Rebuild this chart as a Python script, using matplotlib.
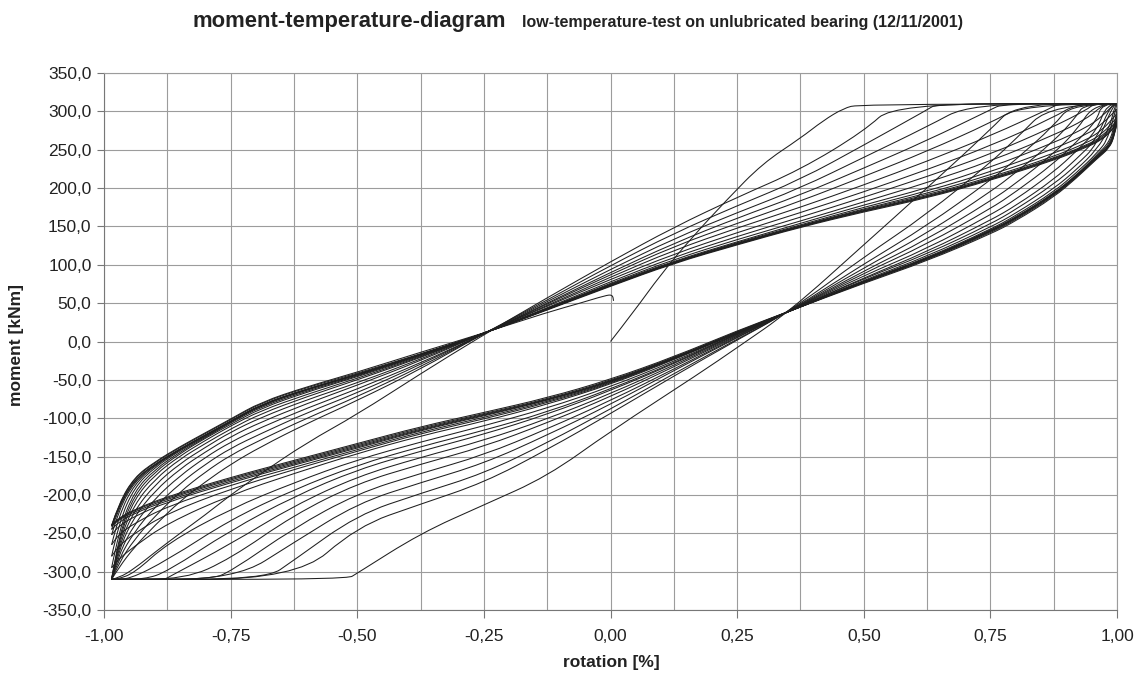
import matplotlib.pyplot as plt
from matplotlib.path import Path
from matplotlib.patches import PathPatch
from matplotlib.ticker import MultipleLocator, FuncFormatter

plt.rcParams['font.family'] = ['Liberation Sans', 'DejaVu Sans']

# first loading from zero up to the friction limit
virgin = [(0.0, 0), (0.045, 38), (0.1, 88), (0.16, 135), (0.23, 185), (0.3, 232),
          (0.375, 265), (0.42, 288), (0.46, 304), (0.49, 309), (1.0, 310)]

# descending branches (rotation 1 -> -1), one per cycle
desc = [
    [(1.0, 310), (0.8, 310), (0.75, 276), (0.625, 200), (0.5, 126), (0.355, 40), (0.25, -8), (0.177, -41),
     (0.0, -117), (-0.125, -176), (-0.25, -213), (-0.375, -250), (-0.5, -302), (-0.52, -310), (-0.985, -310)],
    [(1.0, 310), (0.87, 310), (0.8, 264), (0.75, 233), (0.625, 166), (0.5, 110), (0.355, 40), (0.25, 2),
     (0.125, -45), (0.0, -94), (-0.125, -141), (-0.25, -184), (-0.375, -212), (-0.5, -241), (-0.62, -310),
     (-0.985, -310)],
    [(1.0, 310), (0.91, 310), (0.875, 281), (0.8, 237), (0.75, 210), (0.625, 151), (0.5, 101), (0.355, 40),
     (0.25, 3), (0.125, -42), (0.0, -88), (-0.125, -132), (-0.25, -172), (-0.375, -198), (-0.5, -226),
     (-0.625, -285), (-0.68, -310), (-0.985, -310)],
    [(1.0, 310), (0.935, 310), (0.92, 293), (0.875, 261), (0.8, 220), (0.75, 195), (0.625, 141), (0.5, 96),
     (0.355, 40), (0.25, 5), (0.125, -38), (0.0, -82), (-0.125, -122), (-0.25, -159), (-0.375, -184),
     (-0.5, -211), (-0.625, -262), (-0.74, -310), (-0.985, -310)],
    [(1.0, 310), (0.955, 310), (0.92, 275), (0.875, 245), (0.8, 206), (0.75, 183), (0.625, 133), (0.5, 92),
     (0.355, 40), (0.25, 6), (0.125, -36), (0.0, -77), (-0.125, -114), (-0.25, -148), (-0.375, -172),
     (-0.5, -198), (-0.625, -243), (-0.75, -300), (-0.79, -310), (-0.985, -310)],
    [(1.0, 310), (0.97, 310), (0.96, 288), (0.92, 260), (0.875, 232), (0.8, 195), (0.75, 173), (0.625, 127),
     (0.5, 89), (0.355, 40), (0.25, 7), (0.125, -33), (0.0, -72), (-0.125, -106), (-0.25, -137),
     (-0.375, -160), (-0.5, -185), (-0.625, -226), (-0.75, -283), (-0.84, -310), (-0.985, -310)],
    [(1.0, 310), (0.98, 310), (0.96, 275), (0.92, 248), (0.875, 221), (0.8, 185), (0.75, 165), (0.625, 121),
     (0.5, 86), (0.355, 40), (0.25, 8), (0.125, -31), (0.0, -68), (-0.125, -101), (-0.25, -129),
     (-0.375, -151), (-0.5, -176), (-0.625, -214), (-0.75, -264), (-0.875, -308), (-0.88, -310), (-0.985, -310)],
    [(1.0, 310), (0.988, 310), (0.96, 264), (0.92, 238), (0.875, 211), (0.8, 177), (0.75, 158), (0.625, 117),
     (0.5, 83), (0.355, 40), (0.25, 9), (0.125, -29), (0.0, -64), (-0.125, -95), (-0.25, -121),
     (-0.375, -143), (-0.5, -167), (-0.625, -202), (-0.75, -246), (-0.875, -300), (-0.92, -310), (-0.985, -310)],
    [(1.0, 310), (0.993, 310), (0.96, 256), (0.92, 230), (0.875, 205), (0.8, 172), (0.75, 153), (0.625, 114),
     (0.5, 82), (0.355, 40), (0.25, 10), (0.125, -28), (0.0, -62), (-0.125, -92), (-0.25, -116),
     (-0.375, -137), (-0.5, -161), (-0.625, -193), (-0.75, -232), (-0.875, -285), (-0.95, -310), (-0.985, -310)],
    [(1.0, 310), (0.997, 310), (0.985, 278), (0.96, 250), (0.92, 224), (0.875, 199), (0.8, 167), (0.75, 149),
     (0.625, 111), (0.5, 80), (0.355, 40), (0.25, 10), (0.125, -26), (0.0, -59), (-0.125, -87), (-0.25, -110),
     (-0.375, -131), (-0.5, -154), (-0.625, -184), (-0.75, -218), (-0.875, -263), (-0.94, -302),
     (-0.975, -310), (-0.985, -310)],
    [(1.0, 310), (0.985, 266), (0.96, 245), (0.92, 220), (0.875, 195), (0.8, 164), (0.75, 146), (0.625, 109),
     (0.5, 79), (0.355, 40), (0.25, 11), (0.125, -24), (0.0, -56), (-0.125, -82), (-0.25, -104),
     (-0.375, -123), (-0.5, -146), (-0.625, -172), (-0.75, -200), (-0.875, -237), (-0.94, -267),
     (-0.97, -283), (-0.985, -295)],
    [(1.0, 303), (0.995, 282), (0.985, 260), (0.96, 243), (0.92, 217), (0.875, 193), (0.8, 162), (0.75, 145),
     (0.625, 108), (0.5, 78.5), (0.355, 40), (0.25, 11), (0.125, -23), (0.0, -55), (-0.125, -80), (-0.25, -101),
     (-0.375, -120), (-0.5, -143), (-0.625, -167), (-0.75, -192), (-0.875, -224), (-0.94, -250),
     (-0.97, -266), (-0.985, -280)],
    [(1.0, 297), (0.995, 277), (0.985, 257), (0.96, 242), (0.92, 216), (0.875, 192), (0.8, 161), (0.75, 144),
     (0.625, 107.5), (0.5, 78), (0.355, 40), (0.25, 11.5), (0.125, -22.5), (0.0, -54), (-0.125, -78.5),
     (-0.25, -99), (-0.375, -118), (-0.5, -141), (-0.625, -164), (-0.75, -187), (-0.875, -215),
     (-0.94, -237), (-0.97, -251), (-0.985, -265)],
    [(1.0, 292), (0.995, 273), (0.985, 255), (0.96, 241), (0.92, 215.5), (0.875, 191.5), (0.8, 160.5),
     (0.75, 143.5), (0.625, 107), (0.5, 78), (0.355, 40), (0.25, 12), (0.125, -22), (0.0, -53), (-0.125, -77),
     (-0.25, -97), (-0.375, -116), (-0.5, -139), (-0.625, -161), (-0.75, -184), (-0.875, -209),
     (-0.94, -228), (-0.97, -240), (-0.985, -252)],
    [(1.0, 288), (0.995, 271), (0.985, 254), (0.96, 240), (0.92, 215), (0.875, 191), (0.8, 160), (0.75, 143),
     (0.625, 107), (0.5, 78), (0.355, 40), (0.25, 12), (0.125, -22), (0.0, -52.5), (-0.125, -76.5),
     (-0.25, -96), (-0.375, -115), (-0.5, -137.5), (-0.625, -159.5), (-0.75, -182), (-0.875, -207),
     (-0.94, -224), (-0.97, -235), (-0.985, -245)],
    [(1.0, 286), (0.995, 270), (0.985, 254), (0.96, 240), (0.92, 215), (0.875, 191), (0.8, 160), (0.75, 143),
     (0.625, 107), (0.5, 78), (0.355, 40), (0.25, 12), (0.125, -22), (0.0, -52), (-0.125, -76), (-0.25, -95),
     (-0.375, -114), (-0.5, -136), (-0.625, -158), (-0.75, -180), (-0.875, -205), (-0.94, -222),
     (-0.97, -232), (-0.985, -241)],
    [(1.0, 285), (0.995, 269), (0.985, 253), (0.96, 239), (0.92, 214), (0.875, 189.5), (0.8, 158.5),
     (0.75, 141.5), (0.625, 106), (0.5, 77), (0.355, 40), (0.25, 13), (0.125, -21), (0.0, -51), (-0.125, -75),
     (-0.25, -94), (-0.375, -112.5), (-0.5, -134.5), (-0.625, -156.5), (-0.75, -178.5), (-0.875, -203.5),
     (-0.94, -220), (-0.97, -231), (-0.985, -240)],
    [(1.0, 285), (0.995, 268), (0.985, 252), (0.96, 238), (0.92, 213), (0.875, 188), (0.8, 157),
     (0.75, 140), (0.625, 105), (0.5, 76), (0.355, 40), (0.25, 14), (0.125, -20), (0.0, -49.5), (-0.125, -73.5),
     (-0.25, -92.5), (-0.375, -111), (-0.5, -133), (-0.625, -155), (-0.75, -177), (-0.875, -202),
     (-0.94, -219), (-0.97, -230), (-0.985, -239)],
]

# ascending branches (rotation -1 -> 1)
asc = [
    [(-0.985, -310), (-0.97, -308), (-0.94, -296), (-0.9, -275), (-0.85, -250), (-0.8, -226), (-0.75, -200),
     (-0.69, -172), (-0.6, -132), (-0.5, -95), (-0.375, -42), (-0.26, 5), (-0.125, 57), (0.0, 104),
     (0.125, 149), (0.25, 188), (0.375, 224), (0.5, 274), (0.56, 310), (1.0, 310)],
    [(-0.985, -310), (-0.97, -294), (-0.94, -268), (-0.9, -240), (-0.85, -208), (-0.8, -183), (-0.75, -160),
     (-0.69, -137), (-0.6, -107), (-0.5, -77), (-0.375, -36), (-0.26, 7), (-0.125, 54), (0.0, 99),
     (0.125, 141), (0.25, 177), (0.375, 211), (0.5, 256), (0.625, 302), (0.645, 310), (1.0, 310)],
    [(-0.985, -310), (-0.97, -288), (-0.94, -258), (-0.9, -228), (-0.85, -196), (-0.8, -170), (-0.75, -148),
     (-0.69, -128), (-0.6, -100), (-0.5, -72), (-0.375, -33), (-0.26, 7), (-0.125, 52), (0.0, 94),
     (0.125, 134), (0.25, 168), (0.375, 200), (0.5, 240), (0.625, 280), (0.71, 310), (1.0, 310)],
    [(-0.985, -310), (-0.97, -282), (-0.94, -248), (-0.9, -216), (-0.85, -185), (-0.8, -160), (-0.75, -139),
     (-0.69, -120), (-0.6, -93), (-0.5, -67), (-0.375, -30), (-0.26, 7), (-0.125, 50), (0.0, 90),
     (0.125, 128), (0.25, 161), (0.375, 191), (0.5, 226), (0.625, 262), (0.75, 302), (0.775, 310), (1.0, 310)],
    [(-0.985, -310), (-0.97, -276), (-0.94, -238), (-0.9, -205), (-0.85, -175), (-0.8, -151), (-0.75, -131),
     (-0.69, -112), (-0.6, -87), (-0.5, -62), (-0.375, -28), (-0.26, 7), (-0.125, 49), (0.0, 87),
     (0.125, 124), (0.25, 154), (0.375, 183), (0.5, 215), (0.625, 248), (0.75, 285), (0.82, 310), (1.0, 310)],
    [(-0.985, -310), (-0.97, -270), (-0.94, -228), (-0.9, -195), (-0.85, -166), (-0.8, -144), (-0.75, -124),
     (-0.69, -105), (-0.6, -81), (-0.5, -57), (-0.375, -25), (-0.26, 8), (-0.125, 47), (0.0, 84),
     (0.125, 119), (0.25, 148), (0.375, 175), (0.5, 204), (0.625, 235), (0.75, 268), (0.875, 306),
     (0.885, 310), (1.0, 310)],
    [(-0.985, -310), (-0.97, -265), (-0.94, -220), (-0.9, -187), (-0.85, -159), (-0.8, -138), (-0.75, -118),
     (-0.69, -99), (-0.6, -76), (-0.5, -54), (-0.375, -23), (-0.26, 8), (-0.125, 46), (0.0, 81),
     (0.125, 114), (0.25, 142), (0.375, 168), (0.5, 195), (0.625, 224), (0.75, 255), (0.875, 292),
     (0.92, 310), (1.0, 310)],
    [(-0.985, -310), (-0.97, -260), (-0.94, -212), (-0.9, -180), (-0.85, -153), (-0.8, -133), (-0.75, -114),
     (-0.69, -94), (-0.6, -72), (-0.5, -50), (-0.375, -21), (-0.26, 8), (-0.125, 44), (0.0, 78),
     (0.125, 110), (0.25, 137), (0.375, 162), (0.5, 188), (0.625, 215), (0.75, 244), (0.875, 280),
     (0.94, 302), (0.955, 310), (1.0, 310)],
    [(-0.985, -310), (-0.97, -255), (-0.94, -205), (-0.9, -174), (-0.85, -149), (-0.8, -129), (-0.75, -110),
     (-0.69, -90), (-0.6, -69), (-0.5, -48), (-0.375, -20), (-0.26, 8), (-0.125, 43), (0.0, 76),
     (0.125, 107), (0.25, 133), (0.375, 157), (0.5, 182), (0.625, 207), (0.75, 235), (0.875, 269),
     (0.94, 290), (0.975, 310), (1.0, 310)],
    [(-0.985, -310), (-0.97, -250), (-0.94, -200), (-0.9, -170), (-0.85, -146), (-0.8, -126), (-0.75, -108),
     (-0.69, -87), (-0.6, -66), (-0.5, -46), (-0.375, -19), (-0.26, 8), (-0.125, 43), (0.0, 75),
     (0.125, 105), (0.25, 130), (0.375, 154), (0.5, 178), (0.625, 200), (0.75, 227), (0.875, 259),
     (0.94, 279), (0.97, 293), (0.995, 310), (1.0, 310)],
    [(-0.985, -295), (-0.97, -245), (-0.94, -195), (-0.9, -167), (-0.85, -144), (-0.8, -125), (-0.75, -106),
     (-0.69, -85), (-0.6, -64.5), (-0.5, -45), (-0.375, -18), (-0.26, 8), (-0.125, 42.5), (0.0, 74),
     (0.125, 104), (0.25, 129), (0.375, 152), (0.5, 175), (0.625, 196), (0.75, 221), (0.875, 251),
     (0.94, 270), (0.97, 283), (1.0, 303)],
    [(-0.985, -280), (-0.97, -235), (-0.94, -190), (-0.9, -164), (-0.85, -142), (-0.8, -124), (-0.75, -105),
     (-0.69, -83.5), (-0.6, -63), (-0.5, -44), (-0.375, -17.5), (-0.26, 8), (-0.125, 42), (0.0, 73.5),
     (0.125, 103.5), (0.25, 128), (0.375, 151), (0.5, 173), (0.625, 193), (0.75, 217), (0.875, 245),
     (0.94, 263), (0.97, 275), (1.0, 297)],
    [(-0.985, -265), (-0.97, -225), (-0.94, -186), (-0.9, -162), (-0.85, -141), (-0.8, -123), (-0.75, -104.5),
     (-0.69, -82.7), (-0.6, -62.5), (-0.5, -43.5), (-0.375, -17), (-0.26, 8), (-0.125, 42), (0.0, 73),
     (0.125, 103), (0.25, 127.5), (0.375, 150.5), (0.5, 172), (0.625, 191), (0.75, 214), (0.875, 241),
     (0.94, 259), (0.97, 270), (1.0, 292)],
    [(-0.985, -252), (-0.97, -218), (-0.94, -183), (-0.9, -161), (-0.85, -140.5), (-0.8, -122), (-0.75, -104),
     (-0.69, -82), (-0.6, -62), (-0.5, -43), (-0.375, -17), (-0.26, 8), (-0.125, 42), (0.0, 73),
     (0.125, 103), (0.25, 127), (0.375, 150), (0.5, 171), (0.625, 189.5), (0.75, 212.5), (0.875, 239),
     (0.94, 256), (0.97, 267), (1.0, 288)],
    [(-0.985, -245), (-0.97, -215), (-0.94, -181), (-0.9, -160), (-0.85, -140), (-0.8, -122), (-0.75, -104),
     (-0.69, -82), (-0.6, -62), (-0.5, -43), (-0.375, -17), (-0.26, 8), (-0.125, 42), (0.0, 73),
     (0.125, 103), (0.25, 127), (0.375, 150), (0.5, 170.5), (0.625, 188.5), (0.75, 211.5), (0.875, 238),
     (0.94, 255), (0.97, 265), (1.0, 286)],
    [(-0.985, -241), (-0.97, -213), (-0.94, -180), (-0.9, -160), (-0.85, -140), (-0.8, -122), (-0.75, -104),
     (-0.69, -82), (-0.6, -62), (-0.5, -43), (-0.375, -17), (-0.26, 8), (-0.125, 42), (0.0, 73),
     (0.125, 103), (0.25, 127), (0.375, 150), (0.5, 170), (0.625, 188), (0.75, 211), (0.875, 237),
     (0.94, 254), (0.97, 264), (0.99, 276), (1.0, 285)],
    [(-0.985, -240), (-0.97, -211), (-0.94, -178), (-0.9, -158), (-0.85, -138), (-0.8, -120), (-0.75, -102),
     (-0.69, -80), (-0.6, -60), (-0.5, -41.5), (-0.375, -16), (-0.26, 8), (-0.125, 41), (0.0, 72),
     (0.125, 102), (0.25, 126), (0.375, 149), (0.5, 169), (0.625, 187), (0.75, 210), (0.875, 236),
     (0.94, 253), (0.97, 263), (0.99, 275), (1.0, 285)],
]

# last half cycle, test stopped at zero rotation
final = [(-0.985, -240), (-0.97, -210), (-0.94, -177), (-0.9, -157), (-0.85, -137), (-0.8, -119),
         (-0.75, -101), (-0.69, -79), (-0.6, -59), (-0.5, -40), (-0.375, -14), (-0.26, 9), (-0.125, 38),
         (-0.06, 50), (-0.01, 60), (0.004, 61), (0.006, 53)]

W, H = 1143, 682
fig = plt.figure(figsize=(W / 100, H / 100), dpi=100)
ax = fig.add_axes([104 / W, 1 - 610 / H, (1117 - 104) / W, (610 - 73) / H])

# smooth the read points a little (quadratic pieces between midpoints)
for curve in [virgin] + desc + asc + [final]:
    verts = [curve[0]]
    codes = [Path.MOVETO]
    for i in range(1, len(curve) - 1):
        (x0, y0), (x1, y1) = curve[i], curve[i + 1]
        verts += [curve[i], ((x0 + x1) / 2, (y0 + y1) / 2)]
        codes += [Path.CURVE3, Path.CURVE3]
    verts.append(curve[-1])
    codes.append(Path.LINETO)
    ax.add_patch(PathPatch(Path(verts, codes), fill=False, edgecolor='#1f1f1f', lw=0.75))

ax.set_xlim(-1, 1)
ax.set_ylim(-350, 350)
ax.xaxis.set_major_locator(MultipleLocator(0.25))
ax.xaxis.set_minor_locator(MultipleLocator(0.125))
ax.yaxis.set_major_locator(MultipleLocator(50))
ax.xaxis.set_major_formatter(FuncFormatter(lambda v, p: f"{v + 0:.2f}".replace('.', ',')))
ax.yaxis.set_major_formatter(FuncFormatter(lambda v, p: f"{v + 0:.1f}".replace('.', ',')))
ax.grid(which='both', color='#9c9c9c', lw=0.8)
ax.set_axisbelow(True)

for s in ax.spines.values():
    s.set_color('#9c9c9c')
    s.set_linewidth(0.8)
ax.spines['left'].set_color('#777777')
ax.spines['bottom'].set_color('#777777')

ax.tick_params(axis='both', which='major', labelsize=12.5, labelcolor='#222222', color='#777777')
ax.tick_params(axis='x', which='major', length=6, pad=8)
ax.tick_params(axis='x', which='minor', length=0)
ax.tick_params(axis='y', length=5, pad=4)

fig.text(611 / W, 1 - 663 / H, 'rotation [%]', ha='center', va='center', fontsize=12.5,
         fontweight='bold', color='#222222')
fig.text(17 / W, 1 - 345 / H, 'moment [kNm]', ha='center', va='center', rotation=90,
         fontsize=12.5, fontweight='bold', color='#222222')

fig.text(193 / W, 1 - 22 / H, 'moment-temperature-diagram', ha='left', va='center',
         fontsize=15.8, fontweight='bold', color='#222222')
fig.text(522 / W, 1 - 23 / H, 'low-temperature-test on unlubricated bearing (12/11/2001)',
         ha='left', va='center', fontsize=11.5, fontweight='bold', color='#222222')

fig.savefig('out.png', dpi=100)
